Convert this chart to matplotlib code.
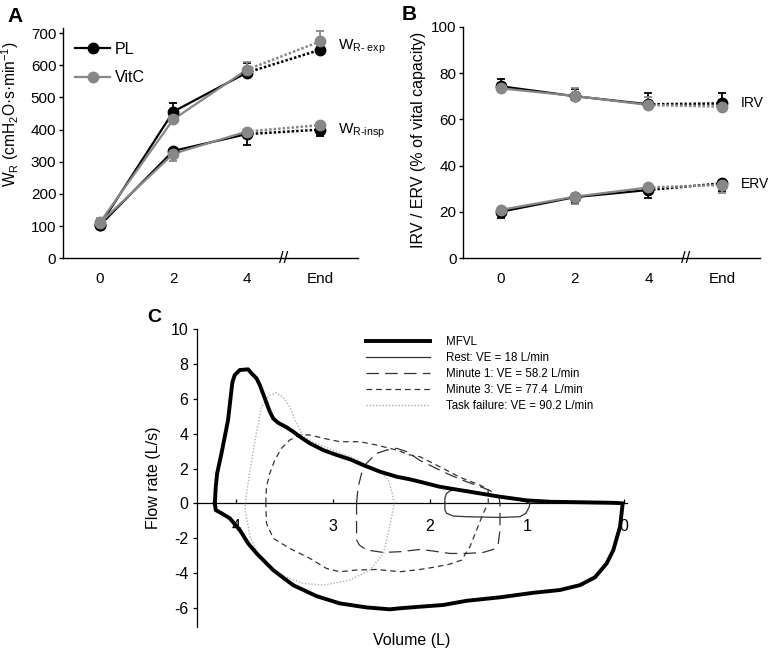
import matplotlib
matplotlib.use("Agg")
import matplotlib.pyplot as plt
import numpy as np

plt.rcParams['font.family'] = ['Liberation Sans', 'DejaVu Sans']
plt.rcParams['mathtext.fontset'] = 'custom'
plt.rcParams['mathtext.rm'] = 'Liberation Sans'
plt.rcParams['mathtext.it'] = 'Liberation Sans:italic'
plt.rcParams['mathtext.default'] = 'regular'
plt.rcParams['axes.unicode_minus'] = False

# ---------------- data ----------------
time_labels = ['0', '2', '4', 'End']

# Panel A: work of breathing (cmH2O*s*min-1)
pl_exp = [103, 456, 577, 648]
pl_exp_err = [10, 28, 30, 8]
vitc_exp = [112, 432, 586, 674]
vitc_exp_err = [12, 15, 24, 31]
pl_insp = [103, 334, 386, 400]
pl_insp_err = [10, 10, 33, 20]
vitc_insp = [110, 325, 394, 414]
vitc_insp_err = [10, 24, 10, 10]

# Panel B: IRV / ERV (% of vital capacity)
pl_irv = [74.3, 70.0, 66.5, 66.9]
pl_irv_err = [3.1, 3.0, 4.7, 4.3]
vitc_irv = [73.4, 70.1, 66.2, 65.5]
vitc_irv_err = [2.5, 3.3, 3.6, 3.0]
pl_erv = [20.1, 26.4, 29.5, 32.4]
pl_erv_err = [2.8, 2.5, 3.3, 3.2]
vitc_erv = [20.9, 26.6, 30.6, 31.7]
vitc_erv_err = [2.0, 3.2, 2.0, 3.4]

# Panel C: flow-volume loops (volume L, flow L/s)
mfvl_v = [4.224, 4.214, 4.200, 4.155, 4.121, 4.087, 4.052, 4.041, 4.018, 3.966, 3.880, 3.845,
          3.793, 3.759, 3.707, 3.656, 3.621, 3.570, 3.483, 3.414, 3.345, 3.242, 3.104, 2.966,
          2.828, 2.691, 2.518, 2.345, 2.208, 2.104, 1.898, 1.691, 1.484, 1.277, 1.001, 0.760,
          0.416, 0.105, 0.008,
          0.036, 0.105, 0.174, 0.295, 0.450, 0.657, 0.933, 1.277, 1.622, 1.863, 2.104, 2.311,
          2.415, 2.656, 2.932, 3.173, 3.415, 3.622, 3.793, 3.880, 3.966, 4.069, 4.155, 4.214, 4.224]
mfvl_f = [0.00, 0.96, 1.72, 2.87, 3.83, 4.79, 6.51, 6.99, 7.37, 7.66, 7.70, 7.47,
          7.18, 6.80, 6.03, 5.27, 4.88, 4.63, 4.37, 4.12, 3.83, 3.45, 3.06, 2.78,
          2.53, 2.20, 1.82, 1.53, 1.38, 1.24, 0.95, 0.76, 0.57, 0.38, 0.17, 0.09,
          0.06, 0.03, 0.00,
          -1.34, -2.68, -3.45, -4.25, -4.70, -4.98, -5.14, -5.40, -5.60, -5.84, -5.94, -6.03,
          -6.09, -5.98, -5.75, -5.33, -4.70, -3.83, -2.87, -2.30, -1.53, -0.86, -0.57, -0.39, 0.00]

rest_v = [1.846, 1.846, 1.830, 1.790, 1.720, 1.600, 1.450, 1.300, 1.150, 1.000, 0.967,
          0.974, 1.008, 1.070, 1.277, 1.622, 1.760, 1.828, 1.846, 1.846]
rest_f = [0.00, 0.30, 0.57, 0.72, 0.80, 0.74, 0.58, 0.42, 0.25, 0.09, 0.00,
          -0.19, -0.57, -0.77, -0.81, -0.77, -0.73, -0.57, -0.38, 0.00]

min1_v = [2.759, 2.742, 2.707, 2.656, 2.552, 2.449, 2.345, 2.240, 2.100, 1.950, 1.800, 1.650,
          1.500, 1.400, 1.320, 1.285, 1.277, 1.277, 1.294, 1.346, 1.450, 1.622, 1.794, 1.967,
          2.104, 2.311, 2.484, 2.656, 2.730, 2.759, 2.759]
min1_f = [0.00, 0.96, 1.72, 2.30, 2.87, 3.06, 3.16, 2.97, 2.45, 2.05, 1.65, 1.30,
          1.00, 0.78, 0.55, 0.30, 0.00, -1.53, -2.30, -2.65, -2.82, -2.88, -2.88, -2.74,
          -2.65, -2.78, -2.82, -2.68, -2.40, -2.10, 0.00]

min3_v = [3.697, 3.690, 3.656, 3.604, 3.535, 3.449, 3.345, 3.242, 3.104, 2.931, 2.724, 2.552,
          2.345, 2.208, 2.104, 1.898, 1.691, 1.484, 1.400, 1.398, 1.398, 1.450, 1.518, 1.587,
          1.673, 1.794, 1.967, 2.104, 2.311, 2.552, 2.760, 2.932, 3.070, 3.242, 3.450, 3.620,
          3.690, 3.697]
min3_f = [0.00, 0.96, 1.72, 2.49, 3.16, 3.64, 3.93, 3.93, 3.74, 3.54, 3.54, 3.35,
          3.06, 2.78, 2.68, 2.10, 1.50, 1.05, 0.80, 0.40, 0.00, -0.57, -1.53, -2.49,
          -3.26, -3.49, -3.68, -3.80, -3.93, -3.80, -3.83, -3.93, -3.74, -3.16, -2.59, -2.01,
          -1.15, 0.00]

tf_v = [3.910, 3.860, 3.790, 3.740, 3.660, 3.590, 3.520, 3.450, 3.380, 3.310, 3.200, 3.000,
        2.800, 2.620, 2.520, 2.430, 2.390, 2.370, 2.410, 2.480, 2.620, 2.830, 3.100, 3.310,
        3.590, 3.760, 3.860, 3.910, 3.910]
tf_f = [0.00, 1.91, 4.21, 5.55, 6.20, 6.36, 6.10, 5.55, 4.60, 3.83, 3.50, 3.05,
        2.62, 2.11, 1.82, 1.34, 0.57, 0.00, -1.15, -2.87, -3.83, -4.41, -4.70, -4.60,
        -4.02, -3.07, -1.92, -0.39, 0.00]

c_labels = ['MFVL', 'Rest: VE = 18 L/min', 'Minute 1: VE = 58.2 L/min',
            'Minute 3: VE = 77.4  L/min', 'Task failure: VE = 90.2 L/min']

# ---------------- figure ----------------
fig = plt.figure(figsize=(7.68, 6.5), dpi=100)
BLACK = '#000000'
GRAY = '#878787'
xpos = np.arange(len(time_labels))


def series(ax, vals, errs, color, side, label=None):
    ax.plot(xpos[:3], vals[:3], color=color, lw=1.6, zorder=2)
    ax.plot(xpos[2:], vals[2:], color=color, lw=1.8, ls=(0, (1, 0.8)), zorder=2)
    if side == 'up':
        yerr = [np.zeros(len(errs)), errs]
    else:
        yerr = [errs, np.zeros(len(errs))]
    ax.errorbar(xpos, vals, yerr=yerr, fmt='o', ms=7.5, color=color, ecolor=color,
                elinewidth=1.3, capsize=3.2, capthick=1.3, zorder=3)
    if label:
        ax.plot([], [], color=color, lw=1.6, marker='o', ms=7.5, label=label)


def style_top(ax):
    ax.spines['top'].set_visible(False)
    ax.spines['right'].set_visible(False)
    ax.spines['left'].set_linewidth(1.0)
    ax.spines['bottom'].set_linewidth(1.0)
    ax.set_xticks(xpos)
    ax.set_xticklabels(time_labels)
    ax.tick_params(axis='x', length=0, pad=9.5, labelsize=11)
    ax.tick_params(axis='y', length=3, width=1, pad=2, labelsize=11)
    ax.text(2.5, 0.0, '//', transform=ax.get_xaxis_transform(), ha='center', va='center',
            fontsize=12, clip_on=False)


# Panel A
axA = fig.add_axes([0.0824, 0.6026, 0.3841, 0.3544])
series(axA, pl_exp, pl_exp_err, BLACK, 'up', 'PL')
series(axA, pl_insp, pl_insp_err, BLACK, 'down')
series(axA, vitc_exp, vitc_exp_err, GRAY, 'up', 'VitC')
series(axA, vitc_insp, vitc_insp_err, GRAY, 'down')
axA.set_xlim(-0.5, 3.52)
axA.set_ylim(0, 716)
axA.set_yticks(range(0, 701, 100))
style_top(axA)
axA.set_ylabel('W$_{R}$ (cmH$_{2}$O·s·min$^{-1}$)', fontsize=11.2)
axA.yaxis.set_label_coords(-0.142, 0.624)
axA.legend(loc='upper left', bbox_to_anchor=(0.04, 0.94), frameon=False, fontsize=11.5,
           handlelength=2.2, handletextpad=0.3, labelspacing=0.85, borderpad=0, borderaxespad=0)
axA.text(3.25, 648, r'W$_{\text{R- exp}}$', fontsize=11, va='baseline', ha='left')
axA.text(3.25, 389, r'W$_{\text{R-insp}}$', fontsize=11, va='baseline', ha='left')

# Panel B
axB = fig.add_axes([0.6033, 0.6026, 0.3863, 0.3563])
series(axB, pl_irv, pl_irv_err, BLACK, 'up')
series(axB, pl_erv, pl_erv_err, BLACK, 'down')
series(axB, vitc_irv, vitc_irv_err, GRAY, 'up')
series(axB, vitc_erv, vitc_erv_err, GRAY, 'down')
axB.set_xlim(-0.506, 3.51)
axB.set_ylim(0, 100)
axB.set_yticks(range(0, 101, 20))
style_top(axB)
axB.set_ylabel('IRV / ERV (% of vital capacity)', fontsize=11.5)
axB.yaxis.set_label_coords(-0.126, 0.513)
axB.text(3.25, 66.9, 'IRV', fontsize=10, va='center', ha='left')
axB.text(3.25, 32.1, 'ERV', fontsize=10, va='center', ha='left')

# Panel C
axC = fig.add_axes([0.2569, 0.0358, 0.5595, 0.4576])
axC.plot(mfvl_v, mfvl_f, color='black', lw=2.8, label=c_labels[0], zorder=5,
         solid_joinstyle='round')
axC.plot(rest_v, rest_f, color='#333333', lw=0.9, label=c_labels[1], zorder=4)
axC.plot(min1_v, min1_f, color='#333333', lw=0.9, ls=(0, (10, 5)), label=c_labels[2], zorder=4)
axC.plot(min3_v, min3_f, color='#333333', lw=0.9, ls=(0, (4.5, 3.2)), label=c_labels[3], zorder=4)
axC.plot(tf_v, tf_f, color='#b0b0b0', lw=1.0, ls=(0, (1, 1.3)), label=c_labels[4], zorder=3)
axC.set_xlim(4.405, -0.036)
axC.set_ylim(-7.09, 10)
axC.spines['top'].set_visible(False)
axC.spines['right'].set_visible(False)
axC.spines['bottom'].set_position(('data', 0))
axC.spines['bottom'].set_linewidth(0.9)
axC.spines['left'].set_linewidth(0.9)
axC.set_yticks(range(-6, 11, 2))
axC.set_xticks([4, 3, 2, 1, 0])
axC.tick_params(axis='y', length=3, width=0.9, labelsize=11.5)
axC.tick_params(axis='x', direction='in', length=3, width=0.9, pad=11, labelsize=11.5)
axC.set_ylabel('Flow rate (L/s)', fontsize=11.5)
axC.yaxis.set_label_coords(-0.085, 0.50)
axC.set_xlabel('Volume (L)', fontsize=11.5, va='top')
axC.xaxis.set_label_coords(0.5, -0.021)
axC.legend(loc='upper left', bbox_to_anchor=(0.392, 0.978), frameon=False, fontsize=8.3,
           handlelength=5.6, handletextpad=1.4, labelspacing=0.36, borderpad=0, borderaxespad=0)

# panel letters
fig.text(7 / 768, 1 - 22 / 650, 'A', fontsize=15, fontweight='bold', va='baseline')
fig.text(402 / 768, 1 - 20 / 650, 'B', fontsize=15, fontweight='bold', va='baseline')
fig.text(147 / 768, 1 - 322 / 650, 'C', fontsize=14, fontweight='bold', va='baseline')

fig.savefig('out.png', dpi=100)
